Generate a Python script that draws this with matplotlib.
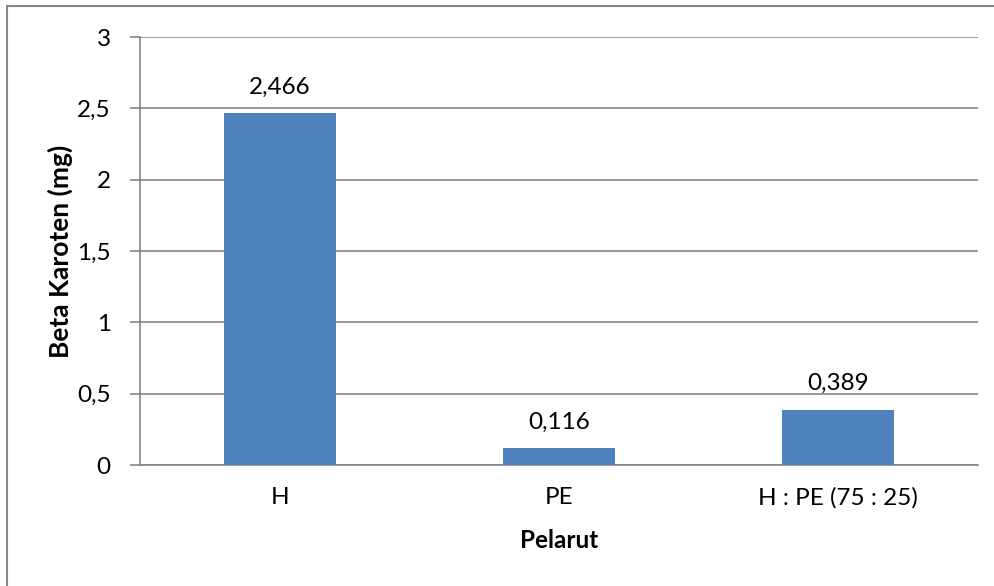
import matplotlib.pyplot as plt
from matplotlib.lines import Line2D

# Data
pelarut = ['H', 'PE', 'H : PE (75 : 25)']
beta_karoten = [2.466, 0.116, 0.389]
y_ticks = [0, 0.5, 1, 1.5, 2, 2.5, 3]

plt.rcParams['font.family'] = ['Lato', 'DejaVu Sans']
fs = 17.5

fig = plt.figure(figsize=(9.95, 5.86), dpi=100)
ax = fig.add_axes([140 / 995, 1 - 465 / 586, 838 / 995, 428 / 586])

grid_color = '#868686'
x = range(len(pelarut))
bars = ax.bar(x, beta_karoten, width=0.4, color='#4F81BD', zorder=3)

# Label nilai di atas batang
for b, v in zip(bars, beta_karoten):
    ax.annotate(f"{v:.3f}".replace('.', ','), (b.get_x() + b.get_width() / 2, v),
                textcoords='offset points', xytext=(0, 11), ha='center', va='bottom',
                fontsize=fs)

ax.set_xlim(-0.5, len(pelarut) - 0.5)
ax.set_ylim(0, 3)
ax.set_yticks(y_ticks)
ax.set_yticklabels([f"{t:g}".replace('.', ',') for t in y_ticks], fontsize=fs)
ax.set_xticks(list(x))
ax.set_xticklabels(pelarut, fontsize=fs)
ax.tick_params(axis='x', length=0, pad=16)
ax.tick_params(axis='y', length=7, width=1.2, color=grid_color, pad=14)

ax.grid(axis='y', color=grid_color, linewidth=1.2, zorder=0)
for side in ['top', 'right']:
    ax.spines[side].set_visible(False)
for side in ['left', 'bottom']:
    ax.spines[side].set_color(grid_color)
    ax.spines[side].set_linewidth(1.2)

ax.set_xlabel('Pelarut', fontsize=fs, fontweight='bold')
ax.set_ylabel('Beta Karoten (mg)', fontsize=19, fontweight='bold')
ax.xaxis.set_label_coords(0.5, -(541 - 465) / 428)
ax.yaxis.set_label_coords(-(140 - 60) / 838, 0.5)
ax.xaxis.label.set_va('center')
ax.yaxis.label.set_va('center')

# Bingkai grafik (atas dan kiri)
fig.add_artist(Line2D([7 / 995, 1], [1 - 6 / 586, 1 - 6 / 586], color=grid_color,
                      linewidth=1.5, transform=fig.transFigure))
fig.add_artist(Line2D([7 / 995, 7 / 995], [0, 1 - 6 / 586], color=grid_color,
                      linewidth=1.5, transform=fig.transFigure))

fig.savefig('out.png', dpi=100)
